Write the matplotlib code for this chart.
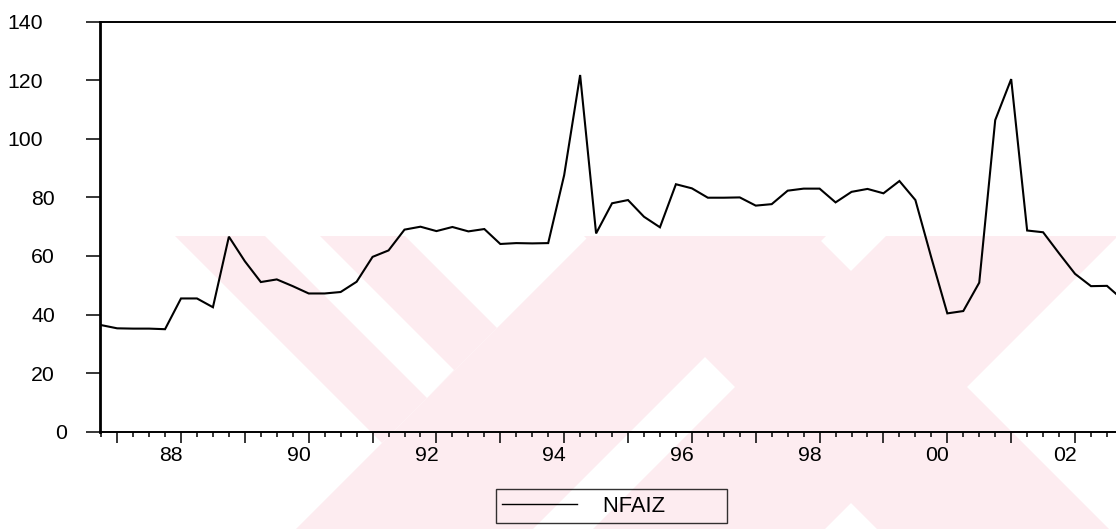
import matplotlib
matplotlib.use("Agg")
import matplotlib.pyplot as plt
import matplotlib.transforms as mtransforms
from matplotlib.lines import Line2D
from matplotlib.patches import Polygon
import numpy as np

# ---------------- data (quarterly, first observation 1986Q4) ----------------
start_year = 1986.75
quarter = 0.25
nfaiz = [36.4, 35.3, 35.2, 35.2, 35.0,
         45.5, 45.5, 42.5, 66.6,
         58.2, 51.1, 52.0, 49.7,
         47.2, 47.2, 47.7, 51.2,
         59.7, 61.9, 69.0, 70.0,
         68.5, 69.9, 68.4, 69.2,
         64.1, 64.4, 64.3, 64.4,
         87.6, 121.8, 67.7, 78.0,
         79.1, 73.4, 69.8, 84.5,
         83.1, 79.9, 79.9, 80.0,
         77.2, 77.7, 82.3, 83.0,
         83.0, 78.3, 81.9, 82.9,
         81.4, 85.6, 79.1, 59.4,
         40.4, 41.2, 50.9, 106.4,
         120.4, 68.7, 68.1, 60.9,
         53.9, 49.7, 49.8, 45.0]
series_name = "NFAIZ"

y_ticks = [0, 20, 40, 60, 80, 100, 120, 140]
label_years = [1988, 1990, 1992, 1994, 1996, 1998, 2000, 2002]
label_texts = ["88", "90", "92", "94", "96", "98", "00", "02"]
all_years = list(range(1987, 2004))

x = start_year + quarter * np.arange(len(nfaiz))

# ---------------- figure ----------------
plt.rcParams['font.family'] = ['Liberation Sans', 'DejaVu Sans']
W, H = 1116, 529
fig = plt.figure(figsize=(W / 100, H / 100), dpi=100)

# faint pink scan watermark behind the chart (pixel outlines, y from top)
wm_pink = "#fdecf0"
wm_pink_shapes = [
    [(175, 236), (405, 236), (497, 328), (382, 443)],
    [(589, 236), (826, 236), (533, 529), (296, 529)],
    [(584, 236), (816, 236), (1109, 529), (877, 529)],
    [(886, 236), (1118, 236), (825, 529), (593, 529)],
]
wm_white_shapes = [
    [(265, 236), (320, 236), (454, 370), (427, 398)],
]
def _to_fig(pts):
    return [(px / W, 1 - py / H) for px, py in pts]
for pts in wm_pink_shapes:
    fig.patches.append(Polygon(_to_fig(pts), closed=True, transform=fig.transFigure,
                               facecolor=wm_pink, edgecolor='none', zorder=0))
for pts in wm_white_shapes:
    fig.patches.append(Polygon(_to_fig(pts), closed=True, transform=fig.transFigure,
                               facecolor='white', edgecolor='none', zorder=0.5))

px_per_year = 63.86
x_left = 1988 - 81 / px_per_year
x_right = 2003.0
ax_w = (x_right - x_left) * px_per_year
ax = fig.add_axes([100 / W, (H - 431.7) / H, ax_w / W, 410 / H])
ax.set_facecolor('none')
ax.set_zorder(2)

ax.plot(x, nfaiz, color='black', lw=1.5, solid_joinstyle='miter')

ax.set_xlim(x_left, x_right)
ax.set_ylim(0, 140)

# spines
ax.spines['right'].set_visible(False)
ax.spines['left'].set_linewidth(2.0)
ax.spines['top'].set_linewidth(1.4)
ax.spines['bottom'].set_linewidth(1.4)

# y ticks
ax.set_yticks(y_ticks)
ytl = [str(v) for v in y_ticks]
ax.set_yticklabels(ytl)
ax.tick_params(axis='y', direction='out', length=10, width=1.1, pad=14,
               labelsize=15.3)
digit_px = 11.7
for lab, s in zip(ax.get_yticklabels(), ytl):
    off = mtransforms.ScaledTranslation(-(len(s) - 1) * digit_px / 100, 0,
                                        fig.dpi_scale_trans)
    lab.set_transform(lab.get_transform() + off)

# x ticks: long tick each year, short tick each quarter
lab_map = dict(zip(label_years, label_texts))
ax.set_xticks(all_years)
ax.set_xticklabels([lab_map.get(y, "") for y in all_years])
ax.set_xticks(start_year + quarter * np.arange(0, 66), minor=True)
ax.tick_params(axis='x', which='major', direction='out', length=8, width=1.1,
               pad=2.5, labelsize=15.3)
ax.tick_params(axis='x', which='minor', direction='out', length=3.6, width=1.1)
xoff = mtransforms.ScaledTranslation(-10 / 100, 0, fig.dpi_scale_trans)
for lab in ax.get_xticklabels():
    lab.set_transform(lab.get_transform() + xoff)

# legend
handle = Line2D([], [], color='black', lw=1.0)
leg = fig.legend([handle], [series_name + " " * 9], loc='center',
                 bbox_to_anchor=(611.5 / W, 1 - 506 / H),
                 fontsize=15.8, frameon=True, fancybox=False, shadow=False,
                 handlelength=3.4, handletextpad=1.2, borderpad=0.3,
                 borderaxespad=0)
leg.set_zorder(5)
leg.get_frame().set_edgecolor('black')
leg.get_frame().set_facecolor('none')
leg.get_frame().set_linewidth(1.0)

fig.savefig("out.png", dpi=100)
